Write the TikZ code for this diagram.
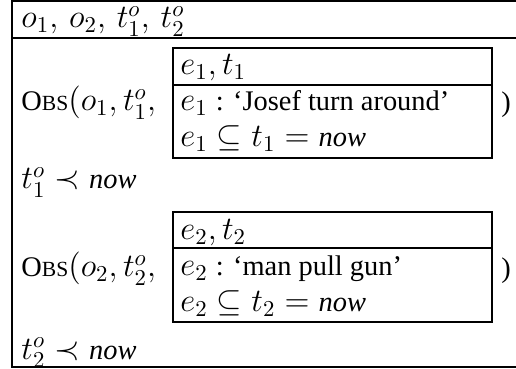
\documentclass[tikz,border=0pt]{standalone}
\usepackage{fontspec}
\setmainfont{Liberation Serif}[ItalicFont=Liberation Serif Italic]
\usetikzlibrary{positioning,calc}

\newcommand{\obsname}{{\fontsize{12.5}{15}\selectfont O\fontsize{9.5}{12}\selectfont BS}}
\newcommand{\drstxt}[1]{{\fontsize{12.5}{15}\selectfont #1}}
\newcommand{\nowtxt}{\mbox{\fontsize{12.5}{15}\selectfont\itshape now}}

\tikzset{
  drsline/.style={line width=1.1pt},
  drstext/.style={anchor=base west, inner sep=0pt, font=\fontsize{14}{16}\selectfont}
}

\begin{document}
\begin{tikzpicture}[x=0.44pt, y=-0.44pt]
\useasboundingbox (0,0) rectangle (516,369);

% outer box, open on the right
\draw[drsline] (516,1) -- (12,1) -- (12,367) -- (516,367);
\draw[drsline] (12,38) -- (516,38);
\node[drstext] (univ) at (21,28) {$o_1,\, o_2,\, t^o_1,\, t^o_2$};

% first observation
\draw[drsline] (173,48) rectangle (492,158);
\draw[drsline] (173,85) -- (492,85);
\node[drstext] (obsa) at (21,111) {\obsname$(o_1, t^o_1,$};
\node[drstext] (refa) at (180,75) {$e_1, t_1$};
\node[drstext] (conda) at (180,111) {$e_1$ \drstxt{: `Josef turn around'}};
\node[drstext] (timea) at (180,147) {$e_1 \subseteq t_1 = \nowtxt$};
\node[drstext] (closea) at (501,112) {\drstxt{)}};
\node[drstext] (preca) at (21,189) {$t^o_1 \prec \nowtxt$};

% second observation
\draw[drsline] (173,212) rectangle (492,322);
\draw[drsline] (173,248) -- (492,248);
\node[drstext] (obsb) at (21,277) {\obsname$(o_2, t^o_2,$};
\node[drstext] (refb) at (180,240) {$e_2, t_2$};
\node[drstext] (condb) at (180,276) {$e_2$ \drstxt{: `man pull gun'}};
\node[drstext] (timeb) at (180,312) {$e_2 \subseteq t_2 = \nowtxt$};
\node[drstext] (closeb) at (501,278) {\drstxt{)}};
\node[drstext] (precb) at (21,359) {$t^o_2 \prec \nowtxt$};
\end{tikzpicture}
\end{document}
